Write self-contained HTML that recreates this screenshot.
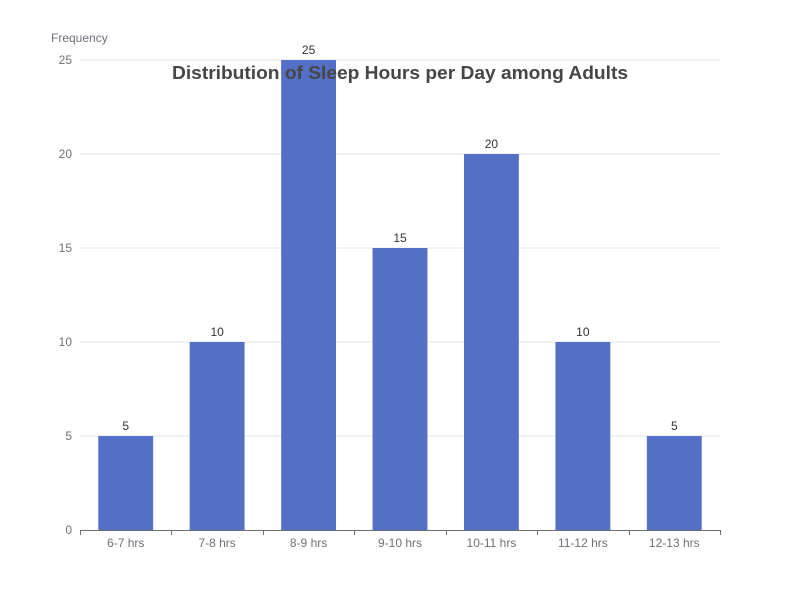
<!DOCTYPE html>
<html>
<head>
<meta charset="utf-8">
<style>
  html,body{margin:0;padding:0;background:#fff;}
  svg{display:block;font-family:"Liberation Sans",sans-serif;}
</style>
</head>
<body>
<svg id="chart" width="800" height="600" viewBox="0 0 800 600">
  <g id="grid"></g>
  <g id="yaxis"></g>
  <g id="xaxis"></g>
  <g id="bars"></g>
  <g id="labels"></g>
  <text x="51" y="42" font-size="12" fill="#6e7079">Frequency</text>
  <text x="400" y="79" font-size="18" font-weight="bold" fill="#464646" text-anchor="middle" textLength="456" lengthAdjust="spacingAndGlyphs">Distribution of Sleep Hours per Day among Adults</text>
</svg>
<script>
const categories = ["6-7 hrs","7-8 hrs","8-9 hrs","9-10 hrs","10-11 hrs","11-12 hrs","12-13 hrs"];
const frequencies = [5,10,25,15,20,10,5];
const yTicks = [0,5,10,15,20,25];

const NS = "http://www.w3.org/2000/svg";
const plotLeft = 80, plotRight = 720, plotTop = 60, plotBottom = 530, yMax = 25;
const band = (plotRight - plotLeft) / categories.length;
const yScale = v => plotBottom - (v / yMax) * (plotBottom - plotTop);
const xCenter = i => plotLeft + band * (i + 0.5);
function mk(tag, attrs, parent){
  const e = document.createElementNS(NS, tag);
  for (const k in attrs) e.setAttribute(k, attrs[k]);
  parent.appendChild(e);
  return e;
}
const gridG = document.getElementById('grid');
const yaxisG = document.getElementById('yaxis');
const xaxisG = document.getElementById('xaxis');
const barsG = document.getElementById('bars');
const labelsG = document.getElementById('labels');

yTicks.forEach(t => {
  const y = yScale(t);
  if (t !== 0) {
    const gl = mk('line', {x1:plotLeft, x2:plotRight, y1:y, y2:y, stroke:'#e0e6f1', 'stroke-width':1}, gridG);
    
    
  }
  const tx = mk('text', {x:72, y:y+4, 'font-size':12, fill:'#6e7079', 'text-anchor':'end'}, yaxisG);
  tx.textContent = t;
  
  
});

const axisLine = mk('line', {x1:plotLeft, x2:plotRight, y1:plotBottom+0.5, y2:plotBottom+0.5, stroke:'#6e7079', 'stroke-width':1}, xaxisG);


for (let i = 0; i <= categories.length; i++) {
  const x = Math.round(plotLeft + band * i) + 0.5;
  const tk = mk('line', {x1:x, x2:x, y1:plotBottom, y2:plotBottom+5, stroke:'#6e7079', 'stroke-width':1}, xaxisG);
  
  
}
categories.forEach((c, i) => {
  const tx = mk('text', {x:xCenter(i), y:plotBottom+17, 'font-size':12, fill:'#6e7079', 'text-anchor':'middle'}, xaxisG);
  tx.textContent = c;
  
  
});

const bw = band * 0.6;
frequencies.forEach((v, i) => {
  const y = yScale(v);
  const r = mk('rect', {x:xCenter(i) - bw/2, y:y, width:bw, height:plotBottom - y, fill:'#5470c6'}, barsG);
  
  
  const lb = mk('text', {x:xCenter(i), y:y-6, 'font-size':12, fill:'#333', 'text-anchor':'middle'}, labelsG);
  lb.textContent = v;
  
  
});
</script>
</body>
</html>
